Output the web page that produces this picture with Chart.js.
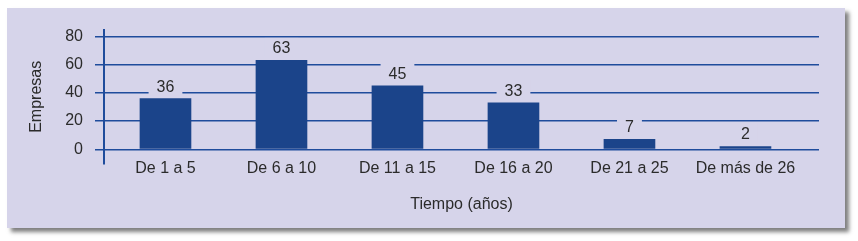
<!DOCTYPE html>
<html>
<head>
<meta charset="utf-8">
<script src="https://cdn.jsdelivr.net/npm/chart.js@4.4.0/dist/chart.umd.min.js"></script>
<style>
    html, body { margin: 0; padding: 0; background: #ffffff; }
    #panel {
        position: absolute;
        left: 7px; top: 8px;
        width: 838px; height: 220px;
        background: #d6d4ea;
        box-shadow: 4px 4px 4px rgba(0, 0, 0, 0.5);
    }
    #chart { display: block; }
</style>
</head>
<body>
<div id="panel">
    <canvas id="chart" width="838" height="220"></canvas>
</div>
<script>
// Chart data
const categories = ['De 1 a 5', 'De 6 a 10', 'De 11 a 15', 'De 16 a 20', 'De 21 a 25', 'De más de 26'];
const empresas = [36, 63, 45, 33, 7, 2];
const yTicks = [0, 20, 40, 60, 80];

const BLUE = '#1b448a';
const GRID = '#1f4c9c';
const PANEL_BG = '#d6d4ea';
const TEXT = '#2b2b2b';
const FONT = "'Liberation Sans', Arial, sans-serif";

Chart.defaults.font.family = FONT;
Chart.defaults.font.size = 16;
Chart.defaults.color = TEXT;

// Value labels above each bar, on a small box of the panel colour
// so the grid line behind the number is cut out
const valueLabels = {
    id: 'valueLabels',
    afterDatasetsDraw(chart) {
        const ctx = chart.ctx;
        const meta = chart.getDatasetMeta(0);
        ctx.save();
        ctx.font = '16px ' + FONT;
        ctx.textAlign = 'center';
        ctx.textBaseline = 'alphabetic';
        meta.data.forEach((bar, i) => {
            const txt = String(empresas[i]);
            const w = ctx.measureText(txt).width;
            const base = bar.y - 7;
            ctx.fillStyle = PANEL_BG;
            ctx.fillRect(bar.x - w / 2 - 8, base - 15.5, w + 16, 19);
            ctx.fillStyle = TEXT;
            ctx.fillText(txt, bar.x, base);
        });
        ctx.restore();
    }
};

new Chart(document.getElementById('chart'), {
    type: 'bar',
    data: {
        datasets: [{
            data: empresas.map((v, i) => ({ x: i, y: v })),
            backgroundColor: BLUE,
            borderWidth: 0,
            barThickness: 51
        }]
    },
    options: {
        responsive: false,
        animation: false,
        layout: { padding: { left: 0, top: 19, right: 26, bottom: 0 } },
        plugins: {
            legend: { display: false },
            tooltip: { enabled: false }
        },
        scales: {
            x: {
                type: 'linear',
                offset: false,
                min: -0.53,
                max: 5.634,
                grid: { display: false, drawTicks: false },
                border: { display: false },
                afterBuildTicks: axis => { axis.ticks = categories.map((c, i) => ({ value: i })); },
                afterFit: axis => { axis.height = 64; },
                ticks: {
                    // mirror avoids the label clip so the labels can sit
                    // beside the lower end of the y axis line
                    mirror: true,
                    padding: -14.4,
                    maxRotation: 0,
                    autoSkip: false,
                    callback: v => categories[v]
                },
                title: {
                    display: true,
                    text: 'Tiempo (años)',
                    padding: { top: 0, bottom: 13.4 }
                }
            },
            y: {
                min: -10.43,
                max: 84.87,
                afterBuildTicks: axis => { axis.ticks = yTicks.map(v => ({ value: v })); },
                afterFit: axis => { axis.width = 97; },
                grid: { color: GRID, lineWidth: 1.5, tickLength: 9, drawTicks: true },
                border: { display: true, color: GRID, width: 2 },
                ticks: { padding: 12 },
                title: {
                    display: true,
                    text: 'Empresas',
                    padding: { top: 20.4, bottom: 0 }
                }
            }
        }
    },
    plugins: [valueLabels]
});
</script>
</body>
</html>
